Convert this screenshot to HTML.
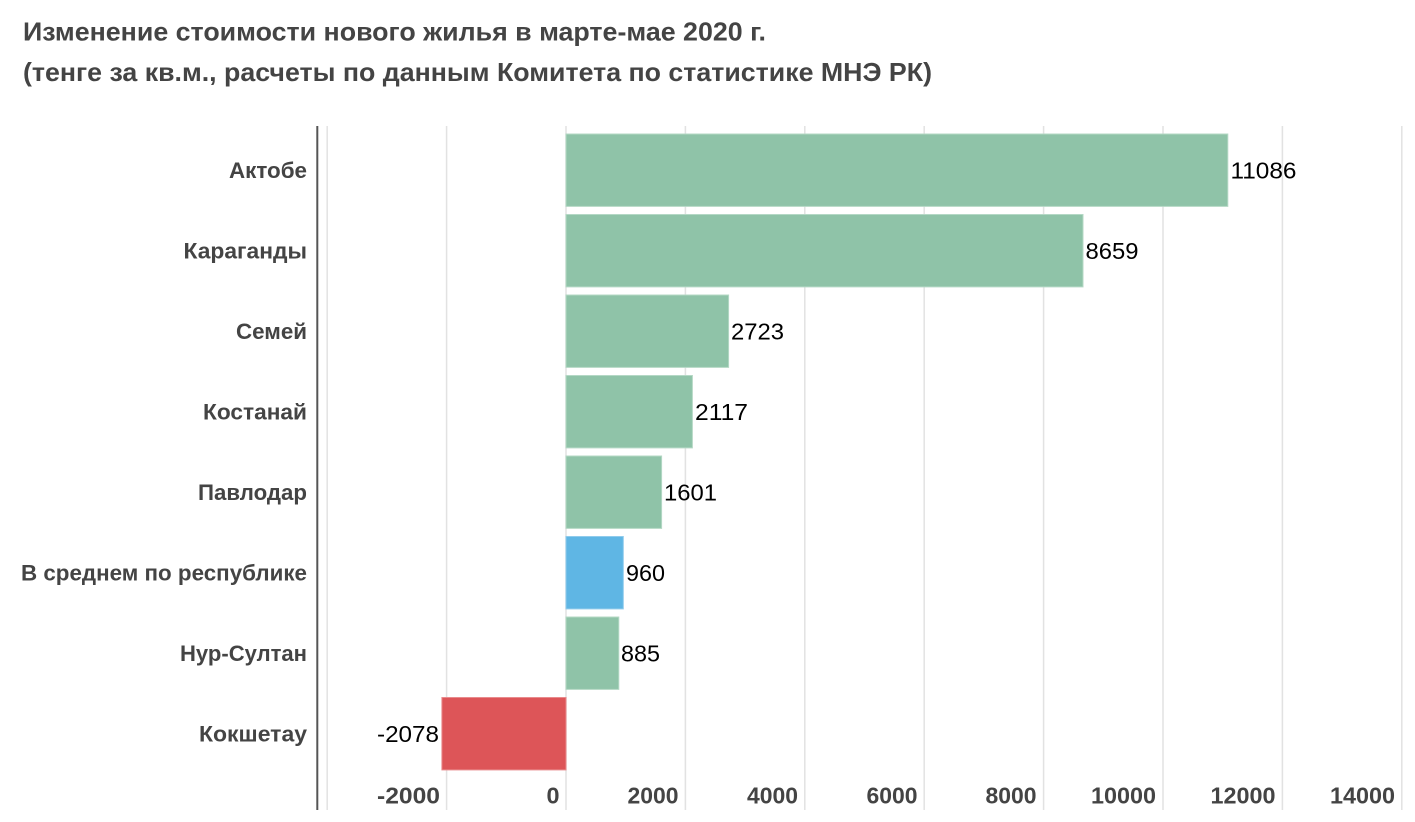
<!DOCTYPE html>
<html><head><meta charset="utf-8"><style>
html,body{margin:0;padding:0;background:#fff;}
svg{display:block;}
text{font-family:"Liberation Sans",Arial,sans-serif;}
</style></head><body>
<svg width="1415" height="822" viewBox="0 0 1415 822" xmlns="http://www.w3.org/2000/svg">
<rect width="1415" height="822" fill="#fff"/>
<!-- title -->
<text x="23" y="40.5" font-size="26" font-weight="bold" fill="#444" textLength="743" lengthAdjust="spacingAndGlyphs">Изменение стоимости нового жилья в марте-мае 2020 г.</text>
<text x="23" y="81" font-size="26" font-weight="bold" fill="#444" textLength="909" lengthAdjust="spacingAndGlyphs">(тенге за кв.м., расчеты по данным Комитета по статистике МНЭ РК)</text>
<!-- gridlines -->
<g stroke="#e2e2e2" stroke-width="1.5">
<line x1="327.2" y1="126" x2="327.2" y2="810"/>
<line x1="446.6" y1="126" x2="446.6" y2="810"/>
<line x1="566" y1="126" x2="566" y2="810"/>
<line x1="685.4" y1="126" x2="685.4" y2="810"/>
<line x1="804.8" y1="126" x2="804.8" y2="810"/>
<line x1="924.2" y1="126" x2="924.2" y2="810"/>
<line x1="1043.6" y1="126" x2="1043.6" y2="810"/>
<line x1="1163" y1="126" x2="1163" y2="810"/>
<line x1="1282.4" y1="126" x2="1282.4" y2="810"/>
<line x1="1401.8" y1="126" x2="1401.8" y2="810"/>
</g>
<!-- axis line -->
<line x1="317.3" y1="126" x2="317.3" y2="810" stroke="#555" stroke-width="2"/>
<!-- bars -->
<g stroke-width="1">
<rect x="566" y="134" width="661.8" height="72.4" fill="#8fc3a8" stroke="#b4d8c5"/>
<rect x="566" y="214.5" width="517" height="72.4" fill="#8fc3a8" stroke="#b4d8c5"/>
<rect x="566" y="295" width="162.6" height="72.4" fill="#8fc3a8" stroke="#b4d8c5"/>
<rect x="566" y="375.5" width="126.4" height="72.4" fill="#8fc3a8" stroke="#b4d8c5"/>
<rect x="566" y="456" width="95.6" height="72.4" fill="#8fc3a8" stroke="#b4d8c5"/>
<rect x="566" y="536.5" width="57.3" height="72.4" fill="#5fb6e4" stroke="#8fcbec"/>
<rect x="566" y="617" width="52.8" height="72.4" fill="#8fc3a8" stroke="#b4d8c5"/>
<rect x="441.9" y="697.5" width="124.1" height="72.4" fill="#dd5558" stroke="#e98a8c"/>
</g>
<!-- category labels -->
<g font-size="22" font-weight="bold" fill="#444" text-anchor="end">
<text x="307" y="178" textLength="78" lengthAdjust="spacingAndGlyphs">Актобе</text>
<text x="307" y="258.5" textLength="123.5" lengthAdjust="spacingAndGlyphs">Караганды</text>
<text x="307" y="339" textLength="71" lengthAdjust="spacingAndGlyphs">Семей</text>
<text x="307" y="419.5" textLength="104" lengthAdjust="spacingAndGlyphs">Костанай</text>
<text x="307" y="500" textLength="109" lengthAdjust="spacingAndGlyphs">Павлодар</text>
<text x="307" y="580.5" textLength="286" lengthAdjust="spacingAndGlyphs">В среднем по республике</text>
<text x="307" y="661" textLength="127" lengthAdjust="spacingAndGlyphs">Нур-Султан</text>
<text x="307" y="741.5" textLength="108" lengthAdjust="spacingAndGlyphs">Кокшетау</text>
</g>
<!-- value labels -->
<g font-size="23" fill="#000">
<text x="1230.5" y="178.5" textLength="66" lengthAdjust="spacingAndGlyphs">11086</text>
<text x="1085.5" y="259" textLength="53" lengthAdjust="spacingAndGlyphs">8659</text>
<text x="731" y="339.5" textLength="53" lengthAdjust="spacingAndGlyphs">2723</text>
<text x="695" y="420" textLength="53" lengthAdjust="spacingAndGlyphs">2117</text>
<text x="664" y="500.5" textLength="53" lengthAdjust="spacingAndGlyphs">1601</text>
<text x="626" y="581" textLength="39" lengthAdjust="spacingAndGlyphs">960</text>
<text x="621" y="661.5" textLength="39" lengthAdjust="spacingAndGlyphs">885</text>
<text x="439" y="742" text-anchor="end" textLength="62" lengthAdjust="spacingAndGlyphs">-2078</text>
</g>
<!-- tick labels -->
<g font-size="23" font-weight="bold" fill="#444" text-anchor="end">
<text x="440" y="803.5" textLength="63" lengthAdjust="spacingAndGlyphs">-2000</text>
<text x="559.5" y="803.5" textLength="13" lengthAdjust="spacingAndGlyphs">0</text>
<text x="678.5" y="803.5" textLength="51" lengthAdjust="spacingAndGlyphs">2000</text>
<text x="798" y="803.5" textLength="51" lengthAdjust="spacingAndGlyphs">4000</text>
<text x="917.5" y="803.5" textLength="51" lengthAdjust="spacingAndGlyphs">6000</text>
<text x="1036.5" y="803.5" textLength="51" lengthAdjust="spacingAndGlyphs">8000</text>
<text x="1156" y="803.5" textLength="65" lengthAdjust="spacingAndGlyphs">10000</text>
<text x="1275.5" y="803.5" textLength="65" lengthAdjust="spacingAndGlyphs">12000</text>
<text x="1395" y="803.5" textLength="65" lengthAdjust="spacingAndGlyphs">14000</text>
</g>
</svg>
</body></html>
